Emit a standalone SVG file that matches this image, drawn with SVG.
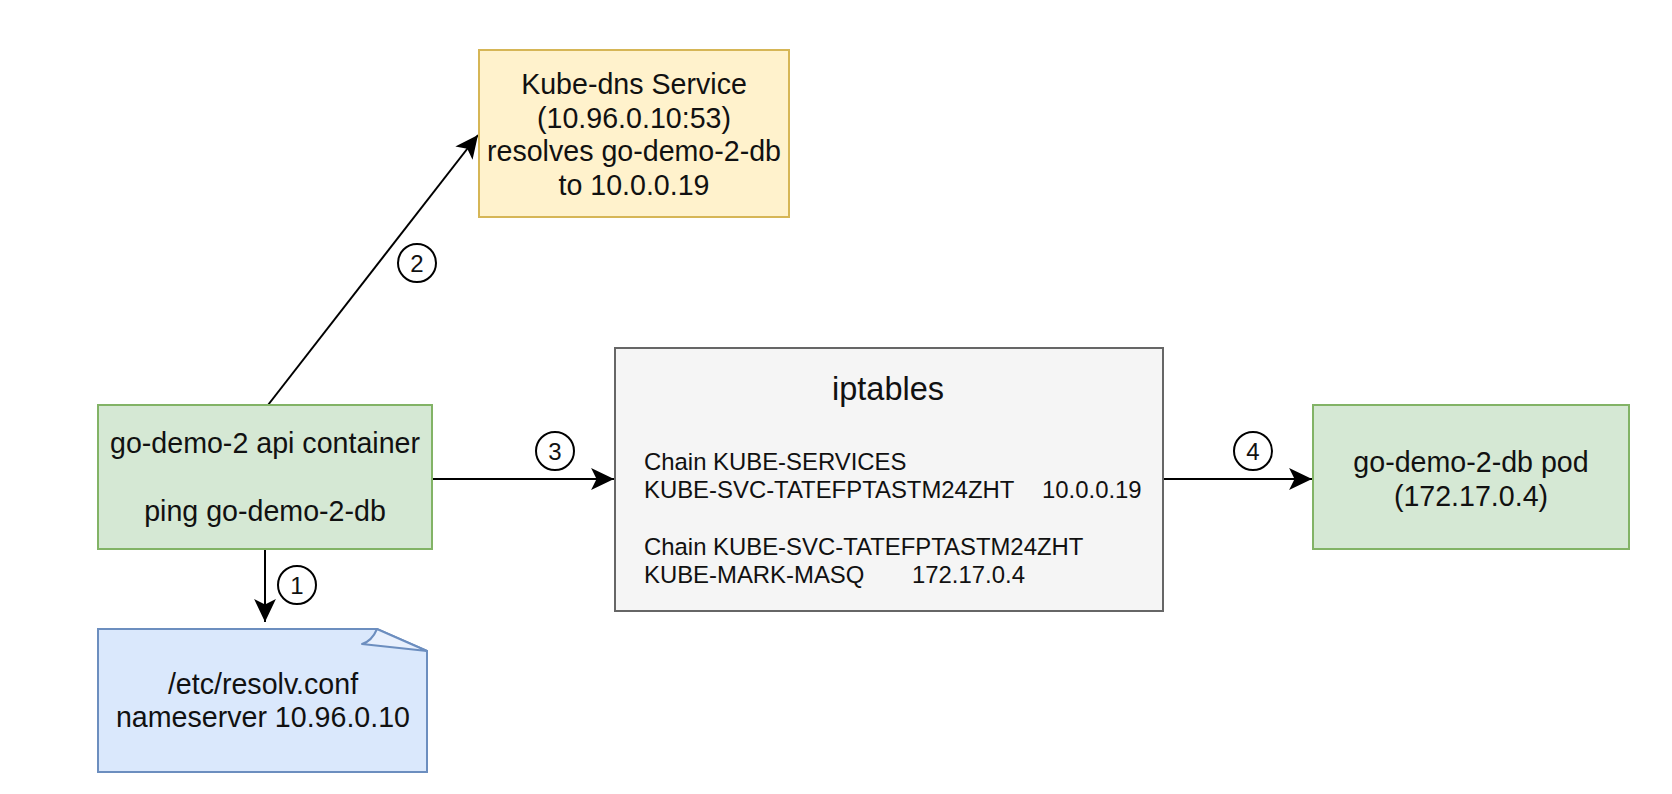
<svg xmlns="http://www.w3.org/2000/svg" width="1672" height="794" viewBox="0 0 1672 794">
<style>
text{font-family:"Liberation Sans",Arial,sans-serif;fill:#111}
.lbl{font-size:28.6px;text-anchor:middle}
.mono{font-size:23.9px}
.edge{stroke:#000;stroke-width:2;fill:none}
.num{fill:#fff;stroke:#000;stroke-width:2}
.numt{font-size:24px;text-anchor:middle}
</style>
<defs>
<marker id="arr" markerUnits="userSpaceOnUse" markerWidth="24" markerHeight="24" viewBox="0 0 22 20" refX="21" refY="10" orient="auto">
<path d="M0,0 L21,10 L0,20 L5,10 Z" fill="#000"/>
</marker>
</defs>
<rect width="1672" height="794" fill="#fff"/>
<g id="connectors">
<line class="edge" x1="265" y1="549" x2="265" y2="622" marker-end="url(#arr)"/>
<line class="edge" x1="268" y1="405" x2="478" y2="135" marker-end="url(#arr)"/>
<line class="edge" x1="432" y1="479" x2="614" y2="479" marker-end="url(#arr)"/>
<line class="edge" x1="1163" y1="479" x2="1312" y2="479" marker-end="url(#arr)"/>
<g id="label1"><circle class="num" cx="297" cy="585" r="19"/><text class="numt" x="297" y="594">1</text></g>
<g id="label2"><circle class="num" cx="417" cy="263" r="19"/><text class="numt" x="417" y="272">2</text></g>
<g id="label3"><circle class="num" cx="555" cy="451" r="19"/><text class="numt" x="555" y="460">3</text></g>
<g id="label4"><circle class="num" cx="1253" cy="451" r="19"/><text class="numt" x="1253" y="460">4</text></g>
</g>
<g id="kube-dns">
<rect x="479" y="50" width="310" height="167" fill="#fff2cc" stroke="#d6b656" stroke-width="2"/>
<text class="lbl" x="634" y="94">Kube-dns Service</text>
<text class="lbl" x="634" y="128">(10.96.0.10:53)</text>
<text class="lbl" x="634" y="161">resolves go-demo-2-db</text>
<text class="lbl" x="634" y="195">to 10.0.0.19</text>
</g>
<g id="api-container">
<rect x="98" y="405" width="334" height="144" fill="#d5e8d4" stroke="#82b366" stroke-width="2"/>
<text class="lbl" x="265" y="453">go-demo-2 api container</text>
<text class="lbl" x="265" y="521">ping go-demo-2-db</text>
</g>
<g id="iptables">
<rect x="615" y="348" width="548" height="263" fill="#f5f5f5" stroke="#666666" stroke-width="2"/>
<text x="888" y="400" style="font-size:32.5px;text-anchor:middle">iptables</text>
<text class="mono" x="644" y="470">Chain KUBE-SERVICES</text>
<text class="mono" x="644" y="498">KUBE-SVC-TATEFPTASTM24ZHT</text>
<text class="mono" x="1042" y="498">10.0.0.19</text>
<text class="mono" x="644" y="555">Chain KUBE-SVC-TATEFPTASTM24ZHT</text>
<text class="mono" x="644" y="583">KUBE-MARK-MASQ</text>
<text class="mono" x="912" y="583">172.17.0.4</text>
</g>
<g id="db-pod">
<rect x="1313" y="405" width="316" height="144" fill="#d5e8d4" stroke="#82b366" stroke-width="2"/>
<text class="lbl" x="1471" y="472">go-demo-2-db pod</text>
<text class="lbl" x="1471" y="506">(172.17.0.4)</text>
</g>
<g id="resolv-conf">
<path d="M98,629 L377,629 L427,651 L427,772 L98,772 Z" fill="#dae8fc" stroke="#6c8ebf" stroke-width="2"/>
<path d="M377,629 Q372,641 362,644 L427,651 Z" fill="#e8f0fd" stroke="#6c8ebf" stroke-width="2" stroke-linejoin="round"/>
<text class="lbl" x="263" y="694">/etc/resolv.conf</text>
<text class="lbl" x="263" y="727">nameserver 10.96.0.10</text>
</g>
</svg>
